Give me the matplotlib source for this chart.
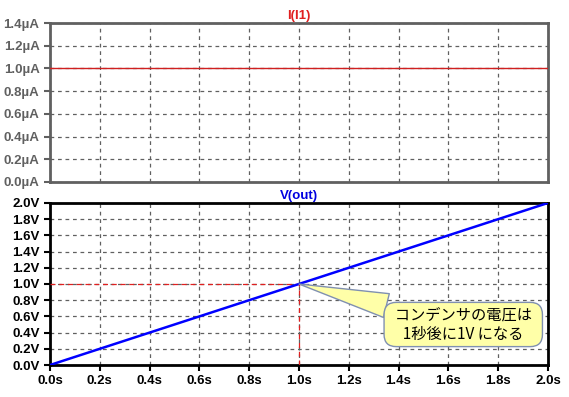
import matplotlib
matplotlib.use("Agg")
import matplotlib.pyplot as plt
from matplotlib.ticker import FuncFormatter

# data
t = [0.0, 2.0]
i_i1 = [1.0, 1.0]     # uA
v_out = [0.0, 2.0]    # V
x_ticks = [0.0, 0.2, 0.4, 0.6, 0.8, 1.0, 1.2, 1.4, 1.6, 1.8, 2.0]
i_ticks = [0.0, 0.2, 0.4, 0.6, 0.8, 1.0, 1.2, 1.4]
v_ticks = [0.0, 0.2, 0.4, 0.6, 0.8, 1.0, 1.2, 1.4, 1.6, 1.8, 2.0]
mark_t, mark_v = 1.0, 1.0
note = "  コンデンサの電圧は  \n  1秒後に1V になる  "

plt.rcParams['font.family'] = ['Liberation Sans', 'DejaVu Sans']

fig = plt.figure(figsize=(5.69, 3.97), dpi=100)
ax1 = fig.add_axes([0.0879, 0.5416, 0.875, 0.4004])
ax2 = fig.add_axes([0.0879, 0.0806, 0.875, 0.4081])

grey = '#606060'
grid_kw = dict(color='#606060', linestyle=(0, (3, 3)), linewidth=0.9)

# top pane (inactive, grey)
ax1.plot(t, i_i1, color='#d02020', linewidth=1.0, zorder=3)
ax1.set_xlim(0, 2)
ax1.set_ylim(0, 1.4)
ax1.set_xticks(x_ticks)
ax1.set_yticks(i_ticks)
ax1.set_xticklabels([])
ax1.yaxis.set_major_formatter(FuncFormatter(lambda y, p: f"{y:.1f}µA"))
ax1.grid(True, **grid_kw)
for s in ax1.spines.values():
    s.set_color(grey)
    s.set_linewidth(2)
ax1.tick_params(axis='y', colors=grey, labelcolor=grey, length=4, width=1.5,
                labelsize=9.5)
ax1.tick_params(axis='x', length=0)
for lab in ax1.get_yticklabels():
    lab.set_fontweight('bold')
ax1.set_title("I(I1)", color='#e02020', fontsize=9.5, fontweight='bold', pad=3)

# bottom pane
ax2.plot(t, v_out, color='#0000ff', linewidth=1.8, zorder=4)
ax2.plot([0, mark_t], [mark_v, mark_v], color='#e02020', linewidth=0.9,
         linestyle=(0, (4, 3)), zorder=3)
ax2.plot([mark_t, mark_t], [0, mark_v], color='#e02020', linewidth=0.9,
         linestyle=(0, (4, 3)), zorder=3)
ax2.set_xlim(0, 2)
ax2.set_ylim(0, 2)
ax2.set_xticks(x_ticks)
ax2.set_yticks(v_ticks)
ax2.xaxis.set_major_formatter(FuncFormatter(lambda x, p: f"{x:.1f}s"))
ax2.yaxis.set_major_formatter(FuncFormatter(lambda y, p: f"{y:.1f}V"))
ax2.grid(True, **grid_kw)
for s in ax2.spines.values():
    s.set_color('black')
    s.set_linewidth(2)
ax2.tick_params(axis='both', colors='black', length=4, width=1.5, labelsize=9.5)
for lab in ax2.get_yticklabels() + ax2.get_xticklabels():
    lab.set_fontweight('bold')
ax2.set_title("V(out)", color='#0000e0', fontsize=9.5, fontweight='bold', pad=3)

ax2.annotate(note, xy=(mark_t, mark_v), xytext=(1.66, 0.5),
             ha='center', va='center', fontsize=11, linespacing=1.2,
             family=['Noto Sans CJK JP', 'DejaVu Sans'],
             bbox=dict(boxstyle='round,pad=0.25,rounding_size=0.8',
                       fc='#ffffa8', ec='#8090b0', lw=1),
             arrowprops=dict(arrowstyle='wedge,tail_width=1.6,shrink_factor=0.5',
                             fc='#ffffa8', ec='#8090b0', lw=1,
                             shrinkA=0, shrinkB=0),
             zorder=6)

fig.savefig("out.png", dpi=100)
